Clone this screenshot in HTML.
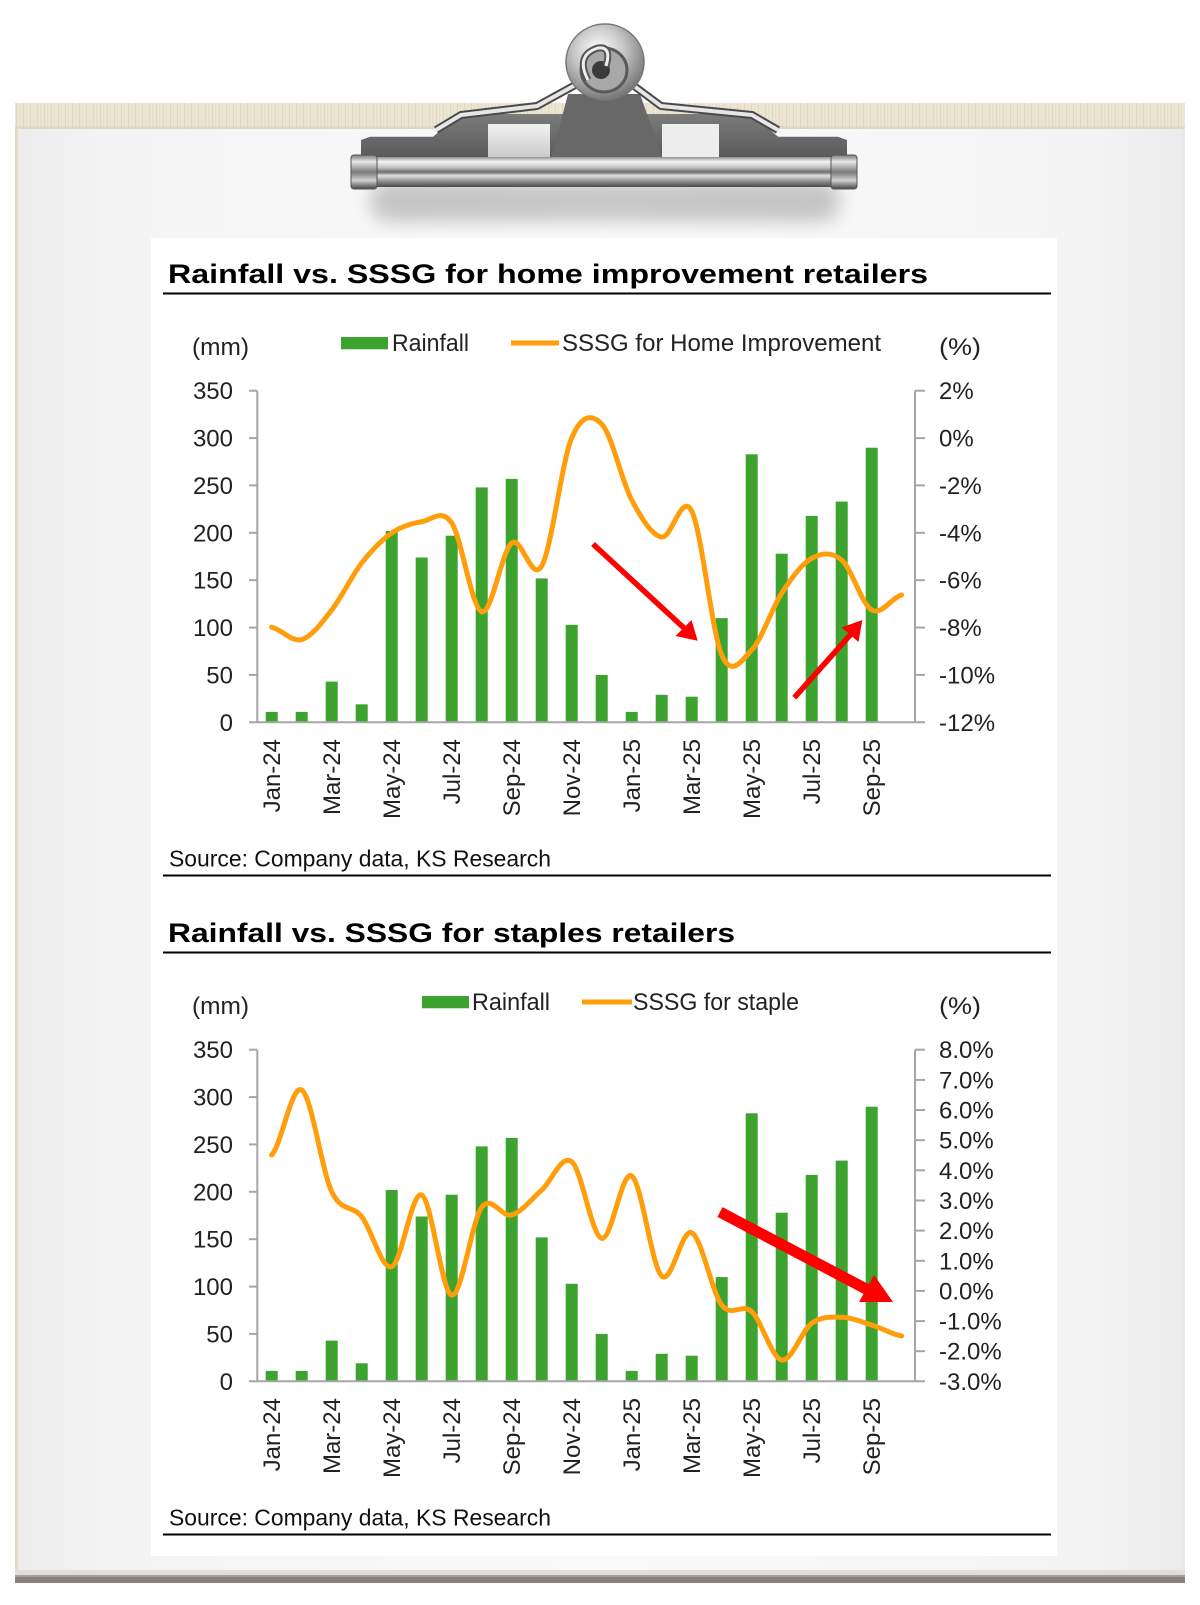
<!DOCTYPE html>
<html><head><meta charset="utf-8"><style>html,body{margin:0;padding:0;background:#fff}svg{display:block}</style></head>
<body>
<svg width="1200" height="1605" viewBox="0 0 1200 1605" xmlns="http://www.w3.org/2000/svg" font-family="'Liberation Sans', Arial, sans-serif">
<defs>
  <linearGradient id="boardG" x1="0" y1="0" x2="1" y2="0">
    <stop offset="0" stop-color="#ececec"/>
    <stop offset="0.08" stop-color="#f4f4f4"/>
    <stop offset="0.5" stop-color="#fafafa"/>
    <stop offset="0.92" stop-color="#f4f4f4"/>
    <stop offset="1" stop-color="#ebebeb"/>
  </linearGradient>
  <pattern id="stripP" width="7" height="26" patternUnits="userSpaceOnUse">
    <rect width="7" height="26" fill="#ece5d4"/>
    <rect x="2" width="1" height="26" fill="#dcd2bc" opacity="0.7"/>
    <rect x="5" width="1" height="26" fill="#e3dac6" opacity="0.6"/>
  </pattern>
  <linearGradient id="barG" x1="0" y1="0" x2="0" y2="1">
    <stop offset="0" stop-color="#8e8e8e"/>
    <stop offset="0.15" stop-color="#f4f4f4"/>
    <stop offset="0.35" stop-color="#c4c4c4"/>
    <stop offset="0.5" stop-color="#6a6a6a"/>
    <stop offset="0.62" stop-color="#e0e0e0"/>
    <stop offset="0.82" stop-color="#8a8a8a"/>
    <stop offset="1" stop-color="#4a4a4a"/>
  </linearGradient>
  <linearGradient id="capG" x1="0" y1="0" x2="0" y2="1">
    <stop offset="0" stop-color="#777"/>
    <stop offset="0.2" stop-color="#e8e8e8"/>
    <stop offset="0.5" stop-color="#7a7a7a"/>
    <stop offset="0.75" stop-color="#d0d0d0"/>
    <stop offset="1" stop-color="#444"/>
  </linearGradient>
  <linearGradient id="plateG" x1="0" y1="0" x2="0" y2="1">
    <stop offset="0" stop-color="#7b7b7b"/>
    <stop offset="1" stop-color="#595959"/>
  </linearGradient>
  <radialGradient id="knobG" cx="0.42" cy="0.35" r="0.7">
    <stop offset="0" stop-color="#ffffff"/>
    <stop offset="0.45" stop-color="#c8c8c8"/>
    <stop offset="1" stop-color="#6c6c6c"/>
  </radialGradient>
  <linearGradient id="winG" x1="0" y1="0" x2="0" y2="1">
    <stop offset="0" stop-color="#f2f2f2"/>
    <stop offset="1" stop-color="#c9c9c9"/>
  </linearGradient>
  <filter id="blur8" x="-20%" y="-50%" width="140%" height="200%"><feGaussianBlur stdDeviation="9"/></filter>
</defs>

<!-- Board -->
<rect x="15" y="103" width="1170" height="1480" fill="url(#boardG)"/>
<rect x="15" y="103" width="1170" height="26" fill="url(#stripP)"/>
<rect x="15" y="126" width="1170" height="3" fill="#d9d0bb" opacity="0.6"/>
<rect x="15" y="129" width="3" height="1446" fill="#e4dbc6"/>
<rect x="1182" y="129" width="3" height="1446" fill="#e8e8e8"/>
<rect x="15" y="1570" width="1170" height="5" fill="#dedede"/>
<rect x="15" y="1575" width="1170" height="8" fill="#8c8178"/>
<rect x="15" y="1575" width="1170" height="2" fill="#a99f96"/>

<!-- Clip shadow -->
<rect x="370" y="180" width="470" height="42" rx="20" fill="#000" opacity="0.2" filter="url(#blur8)"/>

<!-- Clip plates -->
<polygon points="361,160 361,140 370,136.7 433,136.7 461,114 570,114 570,160" fill="url(#plateG)"/>
<polygon points="847,160 847,140 838,136.7 778,136.7 752,114 640,114 640,160" fill="url(#plateG)"/>
<rect x="488" y="124" width="62" height="35" fill="url(#winG)"/>
<rect x="662" y="124" width="57" height="35" fill="#ededed"/>
<polygon points="568,94 640,94 664,163 550,163" fill="#686868"/>
<!-- wires -->
<polyline points="588,78 537,106 461,115 436,130" fill="none" stroke="#4a4a4a" stroke-width="8" stroke-linejoin="round"/>
<polyline points="588,78 537,106 461,115 436,130" fill="none" stroke="#e6e6e6" stroke-width="4" stroke-linejoin="round"/>
<polyline points="626,80 661,106 752,115 778,130" fill="none" stroke="#4a4a4a" stroke-width="8" stroke-linejoin="round"/>
<polyline points="626,80 661,106 752,115 778,130" fill="none" stroke="#e6e6e6" stroke-width="4" stroke-linejoin="round"/>
<!-- knob -->
<ellipse cx="605" cy="62" rx="39" ry="38" fill="url(#knobG)" stroke="#777" stroke-width="1.5"/>
<ellipse cx="604" cy="70" rx="23" ry="22" fill="#a8a8a8" stroke="#5a5a5a" stroke-width="3"/>
<ellipse cx="601" cy="70" rx="9" ry="9" fill="#3a3a3a"/>
<path d="M588,80 Q575,55 598,48 Q612,46 606,66" fill="none" stroke="#555" stroke-width="7"/>
<path d="M588,80 Q575,55 598,48 Q612,46 606,66" fill="none" stroke="#eee" stroke-width="3"/>
<!-- bar -->
<rect x="351" y="157" width="506" height="30" rx="4" fill="url(#barG)"/>
<rect x="351" y="155" width="26" height="34" rx="3" fill="url(#capG)" stroke="#555" stroke-width="1"/>
<rect x="831" y="155" width="26" height="34" rx="3" fill="url(#capG)" stroke="#555" stroke-width="1"/>

<!-- White panel -->
<rect x="151" y="238" width="906" height="1318" fill="#ffffff"/>

<!-- ================= CHART 1 ================= -->
<text x="168" y="283" font-size="27" font-weight="bold" fill="#000" textLength="760" lengthAdjust="spacingAndGlyphs">Rainfall vs. SSSG for home improvement retailers</text>
<rect x="163" y="292.5" width="888" height="2" fill="#000"/>

<g font-size="24" fill="#222">
  <text x="192" y="355" textLength="57" lengthAdjust="spacingAndGlyphs">(mm)</text>
  <text x="939" y="355" textLength="42" lengthAdjust="spacingAndGlyphs">(%)</text>
  <text x="392" y="351" textLength="77" lengthAdjust="spacingAndGlyphs">Rainfall</text>
  <text x="562" y="351" textLength="319" lengthAdjust="spacingAndGlyphs">SSSG for Home Improvement</text>
</g>
<rect x="341" y="337" width="47" height="12.3" fill="#3ba32e"/>
<line x1="511" y1="343" x2="559" y2="343" stroke="#ff9d0a" stroke-width="5"/>

<g id="bars" fill="#3ba32e">
  <rect x="265.7" y="711.9" width="12" height="10.4"/>
  <rect x="295.7" y="711.9" width="12" height="10.4"/>
  <rect x="325.7" y="681.6" width="12" height="40.7"/>
  <rect x="355.7" y="704.3" width="12" height="18"/>
  <rect x="385.7" y="531" width="12" height="191.3"/>
  <rect x="415.7" y="557.5" width="12" height="164.8"/>
  <rect x="445.7" y="535.7" width="12" height="186.6"/>
  <rect x="475.7" y="487.4" width="12" height="234.9"/>
  <rect x="505.7" y="478.9" width="12" height="243.4"/>
  <rect x="535.7" y="578.4" width="12" height="143.9"/>
  <rect x="565.7" y="624.8" width="12" height="97.5"/>
  <rect x="595.7" y="674.9" width="12" height="47.4"/>
  <rect x="625.7" y="711.9" width="12" height="10.4"/>
  <rect x="655.7" y="694.8" width="12" height="27.5"/>
  <rect x="685.7" y="696.7" width="12" height="25.6"/>
  <rect x="715.7" y="618.1" width="12" height="104.2"/>
  <rect x="745.7" y="454.3" width="12" height="268"/>
  <rect x="775.7" y="553.7" width="12" height="168.6"/>
  <rect x="805.7" y="515.9" width="12" height="206.4"/>
  <rect x="835.7" y="501.6" width="12" height="220.7"/>
  <rect x="865.7" y="447.7" width="12" height="274.6"/>
</g>

<g id="leftaxis">
  <g stroke="#a6a6a6" stroke-width="2" fill="none">
    <line x1="257.3" y1="390.7" x2="257.3" y2="722.3"/>
    <line x1="249" y1="722.3" x2="925" y2="722.3"/>
    <line x1="249" y1="390.7" x2="257" y2="390.7"/>
    <line x1="249" y1="438.1" x2="257" y2="438.1"/>
    <line x1="249" y1="485.4" x2="257" y2="485.4"/>
    <line x1="249" y1="532.8" x2="257" y2="532.8"/>
    <line x1="249" y1="580.2" x2="257" y2="580.2"/>
    <line x1="249" y1="627.6" x2="257" y2="627.6"/>
    <line x1="249" y1="674.9" x2="257" y2="674.9"/>
    <line x1="915" y1="390.7" x2="915" y2="722.3"/>
  </g>
  <g font-size="24" fill="#222" text-anchor="end">
    <text x="233" y="399.2">350</text>
    <text x="233" y="446.6">300</text>
    <text x="233" y="493.9">250</text>
    <text x="233" y="541.3">200</text>
    <text x="233" y="588.7">150</text>
    <text x="233" y="636.1">100</text>
    <text x="233" y="683.4">50</text>
    <text x="233" y="730.8">0</text>
  </g>
  <g font-size="24" fill="#222" text-anchor="end">
    <text transform="translate(280,739) rotate(-90)">Jan-24</text>
    <text transform="translate(340,739) rotate(-90)">Mar-24</text>
    <text transform="translate(400,739) rotate(-90)">May-24</text>
    <text transform="translate(460,739) rotate(-90)">Jul-24</text>
    <text transform="translate(520,739) rotate(-90)">Sep-24</text>
    <text transform="translate(580,739) rotate(-90)">Nov-24</text>
    <text transform="translate(640,739) rotate(-90)">Jan-25</text>
    <text transform="translate(700,739) rotate(-90)">Mar-25</text>
    <text transform="translate(760,739) rotate(-90)">May-25</text>
    <text transform="translate(820,739) rotate(-90)">Jul-25</text>
    <text transform="translate(880,739) rotate(-90)">Sep-25</text>
  </g>
  <text x="169" y="866.7" font-size="23" fill="#111" textLength="382" lengthAdjust="spacingAndGlyphs">Source: Company data, KS Research</text>
  <rect x="163" y="874.5" width="888" height="2" fill="#000"/>
</g>

<!-- right axis chart 1 -->
<g stroke="#a6a6a6" stroke-width="2">
  <line x1="915" y1="390.7" x2="925" y2="390.7"/>
  <line x1="915" y1="438.1" x2="925" y2="438.1"/>
  <line x1="915" y1="485.4" x2="925" y2="485.4"/>
  <line x1="915" y1="532.8" x2="925" y2="532.8"/>
  <line x1="915" y1="580.2" x2="925" y2="580.2"/>
  <line x1="915" y1="627.6" x2="925" y2="627.6"/>
  <line x1="915" y1="674.9" x2="925" y2="674.9"/>
</g>
<g font-size="24" fill="#222">
  <text x="939" y="399.2">2%</text>
  <text x="939" y="446.6">0%</text>
  <text x="939" y="493.9">-2%</text>
  <text x="939" y="541.3">-4%</text>
  <text x="939" y="588.7">-6%</text>
  <text x="939" y="636.1">-8%</text>
  <text x="939" y="683.4">-10%</text>
  <text x="939" y="730.8">-12%</text>
</g>

<path d="M271.7,627.3 C281.7,629.3 291.7,642.4 301.7,639.5 C311.7,636.6 321.7,622.8 331.7,610 C341.7,597.3 351.7,575.8 361.7,563 C371.7,550.2 381.7,539.9 391.7,533 C401.7,526.1 411.7,523.4 421.7,521.7 C431.7,520 441.7,508 451.7,523 C461.7,538 471.7,608.4 481.7,611.7 C491.7,615 501.7,550.6 511.7,543 C521.7,535.4 531.7,583.5 541.7,566 C551.7,548.5 561.7,461.7 571.7,438 C581.7,414.3 591.7,413.7 601.7,424 C611.7,434.3 621.7,481.2 631.7,500 C641.7,518.8 651.7,535.2 661.7,537 C671.7,538.8 681.7,491.3 691.7,511 C701.7,530.7 711.7,631.8 721.7,655 C731.7,678.2 741.7,660.3 751.7,650 C761.7,639.7 771.7,608.6 781.7,593.3 C791.7,577.7 801.7,563.9 811.7,558.3 C821.7,552.8 831.7,551.4 841.7,560 C851.7,568.6 861.7,604.2 871.7,610 C881.7,615.8 891.7,597.5 901.7,595" fill="none" stroke="#ff9d0a" stroke-width="5" stroke-linecap="round"/>

<!-- arrows chart 1 -->
<line x1="593" y1="544" x2="684" y2="628" stroke="#ff0000" stroke-width="5.5"/>
<polygon points="697.7,640.7 675.5,636 691.5,620" fill="#ff0000"/>
<line x1="794.3" y1="697.7" x2="851" y2="634" stroke="#ff0000" stroke-width="5.5"/>
<polygon points="862.3,620 841.5,627.5 858.5,642" fill="#ff0000"/>

<!-- ================= CHART 2 ================= -->
<text x="168" y="942" font-size="27" font-weight="bold" fill="#000" textLength="567" lengthAdjust="spacingAndGlyphs">Rainfall vs. SSSG for staples retailers</text>
<rect x="163" y="951.5" width="888" height="2" fill="#000"/>

<g font-size="24" fill="#222">
  <text x="192" y="1014" textLength="57" lengthAdjust="spacingAndGlyphs">(mm)</text>
  <text x="939" y="1014" textLength="42" lengthAdjust="spacingAndGlyphs">(%)</text>
  <text x="472" y="1010" textLength="78" lengthAdjust="spacingAndGlyphs">Rainfall</text>
  <text x="633" y="1010" textLength="166" lengthAdjust="spacingAndGlyphs">SSSG for staple</text>
</g>
<rect x="422" y="996" width="47" height="12.3" fill="#3ba32e"/>
<line x1="582" y1="1002" x2="632" y2="1002" stroke="#ff9d0a" stroke-width="5"/>

<use href="#bars" transform="translate(0,659)"/>
<use href="#leftaxis" transform="translate(0,659)"/>

<g stroke="#a6a6a6" stroke-width="2">
  <line x1="915" y1="1049.7" x2="925" y2="1049.7"/>
  <line x1="915" y1="1079.9" x2="925" y2="1079.9"/>
  <line x1="915" y1="1110" x2="925" y2="1110"/>
  <line x1="915" y1="1140.2" x2="925" y2="1140.2"/>
  <line x1="915" y1="1170.3" x2="925" y2="1170.3"/>
  <line x1="915" y1="1200.5" x2="925" y2="1200.5"/>
  <line x1="915" y1="1230.6" x2="925" y2="1230.6"/>
  <line x1="915" y1="1260.8" x2="925" y2="1260.8"/>
  <line x1="915" y1="1290.9" x2="925" y2="1290.9"/>
  <line x1="915" y1="1321.1" x2="925" y2="1321.1"/>
  <line x1="915" y1="1351.2" x2="925" y2="1351.2"/>
</g>
<g font-size="24" fill="#222">
  <text x="939" y="1058.2">8.0%</text>
  <text x="939" y="1088.4">7.0%</text>
  <text x="939" y="1118.5">6.0%</text>
  <text x="939" y="1148.7">5.0%</text>
  <text x="939" y="1178.8">4.0%</text>
  <text x="939" y="1209">3.0%</text>
  <text x="939" y="1239.1">2.0%</text>
  <text x="939" y="1269.3">1.0%</text>
  <text x="939" y="1299.4">0.0%</text>
  <text x="939" y="1329.6">-1.0%</text>
  <text x="939" y="1359.7">-2.0%</text>
  <text x="939" y="1389.8">-3.0%</text>
</g>

<path d="M271.7,1155 C281.7,1144.2 291.7,1083.9 301.7,1090 C311.7,1096.1 321.7,1170.6 331.7,1191.7 C341.7,1212.8 351.7,1204.2 361.7,1216.7 C371.7,1229.2 381.7,1270.3 391.7,1266.7 C401.7,1263.1 411.7,1190.3 421.7,1195 C431.7,1199.7 441.7,1293 451.7,1295 C461.7,1297 471.7,1220.6 481.7,1207.3 C491.7,1194 501.7,1217.9 511.7,1215 C521.7,1212.1 531.7,1198.9 541.7,1190 C551.7,1181.1 561.7,1153.7 571.7,1161.7 C581.7,1169.8 591.7,1235.9 601.7,1238.3 C611.7,1240.7 621.7,1169.7 631.7,1176 C641.7,1182.3 651.7,1266.6 661.7,1276 C671.7,1285.5 681.7,1227.9 691.7,1232.7 C701.7,1237.5 711.7,1291.8 721.7,1305 C731.7,1318.2 741.7,1302.5 751.7,1311.7 C761.7,1320.9 771.7,1358.1 781.7,1360 C791.7,1361.9 801.7,1330.4 811.7,1323.3 C821.7,1316.2 831.7,1317 841.7,1317.3 C851.7,1317.6 861.7,1321.9 871.7,1325 C881.7,1328.1 891.7,1334.2 901.7,1336" fill="none" stroke="#ff9d0a" stroke-width="5" stroke-linecap="round"/>

<!-- arrow chart 2 -->
<line x1="720" y1="1212" x2="868" y2="1290" stroke="#ff0000" stroke-width="11"/>
<polygon points="893,1302 859,1302 874,1275" fill="#ff0000"/>

</svg>
</body></html>
